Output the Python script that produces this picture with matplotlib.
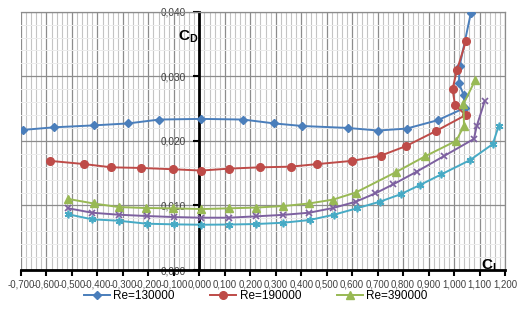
import matplotlib.pyplot as plt
import numpy as np

plt.rcParams['font.family'] = ['Liberation Sans', 'DejaVu Sans']
plt.rcParams['mathtext.fontset'] = 'custom'
plt.rcParams['mathtext.bf'] = 'Liberation Sans:bold'
plt.rcParams['mathtext.rm'] = 'Liberation Sans'

# polar data (CL, CD)
cl_130 = [-0.691, -0.569, -0.412, -0.279, -0.157, 0.008, 0.172, 0.294, 0.404, 0.582,
          0.702, 0.814, 0.936, 1.042, 1.038, 1.019, 1.022, 1.066]
cd_130 = [0.0217, 0.0221, 0.0224, 0.0227, 0.0233, 0.0234, 0.0233, 0.0227, 0.0223, 0.0220,
          0.0216, 0.0219, 0.0232, 0.0251, 0.0271, 0.0289, 0.0316, 0.0398]

cl_190 = [-0.586, -0.451, -0.345, -0.227, -0.102, 0.008, 0.117, 0.239, 0.358, 0.463,
          0.600, 0.712, 0.812, 0.928, 1.046, 1.004, 0.994, 1.011, 1.047]
cd_190 = [0.0169, 0.0164, 0.0159, 0.0158, 0.0156, 0.0154, 0.0157, 0.0159, 0.0160, 0.0164,
          0.0169, 0.0177, 0.0192, 0.0215, 0.0240, 0.0255, 0.0280, 0.0309, 0.0355]

cl_390 = [-0.514, -0.415, -0.317, -0.211, -0.102, 0.008, 0.117, 0.222, 0.330, 0.430,
          0.525, 0.614, 0.774, 0.886, 1.008, 1.039, 1.037, 1.083]
cd_390 = [0.0110, 0.0103, 0.00975, 0.0096, 0.00955, 0.00944, 0.00955, 0.00967, 0.0099, 0.0103,
          0.0109, 0.0120, 0.0152, 0.0176, 0.0200, 0.0223, 0.0257, 0.0294]

cl_s4 = [-0.514, -0.421, -0.317, -0.207, -0.100, 0.008, 0.116, 0.222, 0.330, 0.431,
         0.525, 0.614, 0.691, 0.762, 0.853, 0.962, 1.078, 1.089, 1.120]
cd_s4 = [0.00955, 0.00887, 0.00856, 0.00836, 0.0082, 0.0081, 0.0081, 0.00831, 0.00854, 0.00887,
         0.0096, 0.01057, 0.01187, 0.01328, 0.01522, 0.01768, 0.0203, 0.0223, 0.0261]

cl_s5 = [-0.514, -0.421, -0.317, -0.207, -0.100, 0.008, 0.116, 0.222, 0.330, 0.433,
         0.528, 0.618, 0.708, 0.790, 0.866, 0.950, 1.063, 1.152, 1.175]
cd_s5 = [0.00862, 0.00785, 0.00763, 0.00717, 0.00707, 0.00701, 0.00704, 0.00712, 0.00732, 0.00774,
         0.00856, 0.00955, 0.01057, 0.01173, 0.01316, 0.01481, 0.01703, 0.0195, 0.0223]

x_ticks = np.round(np.arange(-0.7, 1.2001, 0.1), 3)
y_ticks = [0.0, 0.01, 0.02, 0.03, 0.04]


def fmt(v):
    if abs(v) < 1e-9:
        v = 0.0
    return f"{v:.3f}".replace('.', ',')


fig = plt.figure(figsize=(5.27, 3.09), dpi=100)
ax = fig.add_axes([21 / 527, 1 - 270 / 309, 484 / 527, (270 - 11.7) / 309])
ax.set_xlim(-0.7, 1.2)
ax.set_ylim(0, 0.04)

ax.set_xticks(x_ticks)
ax.set_xticklabels([fmt(v) for v in x_ticks])
ax.set_yticks(y_ticks)
ax.set_yticklabels([fmt(v) for v in y_ticks])
ax.set_xticks(np.arange(-0.7, 1.2001, 0.02), minor=True)
ax.set_yticks(np.arange(0, 0.04001, 0.002), minor=True)

ax.xaxis.grid(True, which='major', color='#8c8c8c', lw=0.9)
ax.yaxis.grid(True, which='major', color='#8c8c8c', lw=0.9)
ax.xaxis.grid(True, which='minor', color='#c4c4c4', lw=0.8)
ax.yaxis.grid(True, which='minor', color='#ececec', lw=0.7)
ax.set_axisbelow(True)

ax.spines['left'].set_position(('data', 0))
ax.spines['left'].set_linewidth(2)
ax.spines['bottom'].set_linewidth(2)
for side in ['top', 'right']:
    ax.spines[side].set_color('#8c8c8c')
    ax.spines[side].set_linewidth(0.9)

ax.tick_params(which='minor', length=0)
ax.tick_params(axis='x', which='major', direction='out', length=4, width=1.5,
               labelsize=6.9, pad=2.5, labelcolor='#404040')
ax.tick_params(axis='y', which='major', direction='out', length=4, width=1.5,
               labelsize=7.2, pad=5.5, labelcolor='#404040')

ax.plot(cl_130, cd_130, color='#4a7ebb', lw=1.4, marker='D', ms=3.8, label='Re=130000', zorder=5)
ax.plot(cl_190, cd_190, color='#be4b48', lw=1.4, marker='o', ms=5.5, label='Re=190000', zorder=5)
ax.plot(cl_390, cd_390, color='#98b954', lw=1.4, marker='^', ms=5.5, label='Re=390000', zorder=5)
ax.plot(cl_s4, cd_s4, color='#7d60a0', lw=1.4, marker='x', ms=4.5, mew=1.2, zorder=5)
ax.plot(cl_s5, cd_s5, color='#46aac5', lw=1.4, marker=(6, 2, 0), ms=5.5, mew=1.2, zorder=5)

ax.text(-0.084, 0.0362, r'$\mathbf{C}_\mathbf{D}$', fontsize=11, ha='left', va='center', zorder=6)
ax.text(1.105, 0.0001, r'$\mathbf{C}_\mathbf{L}$', fontsize=11, ha='left', va='baseline', zorder=6)

fig.legend(loc='center', bbox_to_anchor=(0.485, 0.042), ncol=3, frameon=False, fontsize=8.5,
           handlelength=2.2, handletextpad=0.3, columnspacing=3.0)

fig.savefig('out.png', dpi=100)
